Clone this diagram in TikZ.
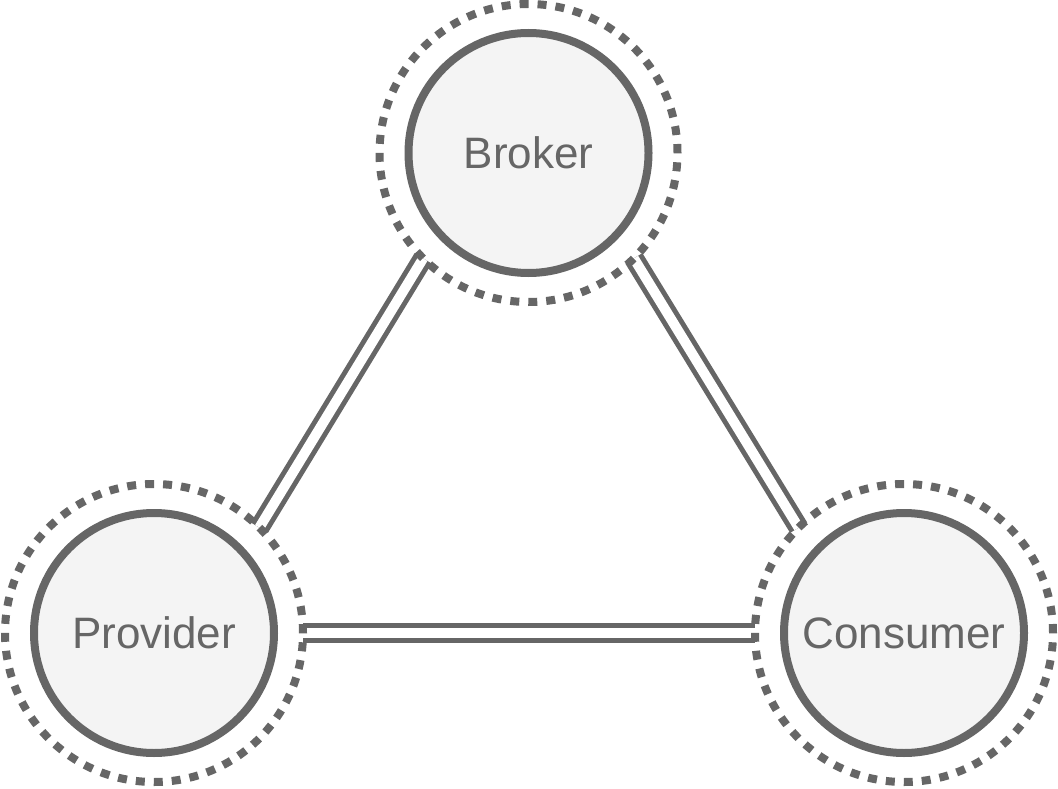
\documentclass[tikz,border=0pt]{standalone}
\usepackage{fontspec}
\setmainfont{Liberation Sans}
\usetikzlibrary{backgrounds}
\definecolor{rolegray}{HTML}{666666}
\definecolor{rolefill}{HTML}{F4F4F4}
\begin{document}
\begin{tikzpicture}[x=1pt, y=-1pt,
    ring/.style={circle, draw=rolegray, line width=8pt, dash pattern=on 9pt off 9pt,
      minimum size=298pt, inner sep=0pt, outer sep=0pt},
    role/.style={circle, draw=rolegray, fill=rolefill, line width=8pt,
      minimum size=240pt, inner sep=0pt, text=rolegray,
      font=\fontsize{44}{52}\selectfont},
    link/.style={draw=rolegray, line width=5pt, double=white, double distance=10pt}]
  \useasboundingbox (0,0) rectangle (1058,789);

  % Nodes
  \node[ring] (brokerring) at (528.5,153) {};
  \node[ring] (providerring) at (154,633) {};
  \node[ring] (consumerring) at (904,633) {};
  \node[role] (broker) at (brokerring) {Broker};
  \node[role] (provider) at (providerring) {Provider};
  \node[role] (consumer) at (consumerring) {Consumer};

  % Edges
  \begin{pgfonlayer}{background}
    \foreach \a/\b in {brokerring.225/providerring.45, brokerring.-45/consumerring.135, providerring.east/consumerring.west}
      \draw[link] (\a) -- (\b);
  \end{pgfonlayer}
\end{tikzpicture}
\end{document}
